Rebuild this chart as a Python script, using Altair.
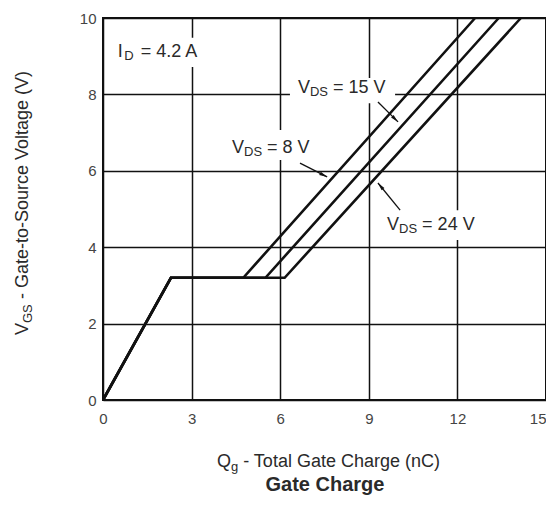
import math
import altair as alt
import pandas as pd

# ---------------- data ----------------
v_gs = [0, 3.2, 3.2, 10]
qg_8v = [0, 2.3, 4.75, 12.6]
qg_15v = [0, 2.3, 5.5, 13.4]
qg_24v = [0, 2.3, 6.15, 14.15]
series_names = ["VDS = 8 V", "VDS = 15 V", "VDS = 24 V"]

x_ticks = [0, 3, 6, 9, 12, 15]
y_ticks = [0, 2, 4, 6, 8, 10]

# annotation labels (anchor at left / middle)
label_main = ["I", "V", "V", "V"]
label_sub = ["D", "DS", "DS", "DS"]
label_rest = ["= 4.2 A", "= 15 V", "= 8 V", "= 24 V"]
label_q = [0.5, 6.6, 4.37, 9.62]
label_v = [9.11, 8.17, 6.6, 4.58]

# white label backgrounds
box_q = [0.4, 6.33, 4.13, 9.48]
box_q2 = [3.7, 9.89, 7.18, 12.7]
box_v = [8.72, 7.77, 6.28, 4.19]
box_v2 = [9.48, 8.43, 7.07, 4.97]

# arrows tail -> head
arrow_q = [9.31, 6.67, 10.06]
arrow_v = [7.80, 6.20, 4.97]
arrow_q2 = [9.99, 7.59, 9.31]
arrow_v2 = [7.28, 5.84, 5.68]

# ---------------- layout ----------------
W, H = 443, 382
FONT = "Liberation Sans"
TXT = "#2a2a2a"

rows = []
for name, qs in zip(series_names, [qg_8v, qg_15v, qg_24v]):
    for i, (q, v) in enumerate(zip(qs, v_gs)):
        rows.append({"series": name, "q": q, "v": v, "order": i})
curve_df = pd.DataFrame(rows)

box_df = pd.DataFrame({"q": box_q, "q2": box_q2, "v": box_v, "v2": box_v2})

arrow_df = pd.DataFrame({"q": arrow_q, "v": arrow_v, "q2": arrow_q2, "v2": arrow_v2})
angles = []
for a, b, c, d in zip(arrow_q, arrow_v, arrow_q2, arrow_v2):
    dxp = (c - a) * W / 15.0
    dyp = -(d - b) * H / 10.0
    angles.append(math.degrees(math.atan2(dxp, -dyp)) % 360)
arrow_df["ang"] = angles

xscale = alt.Scale(domain=[0, 15], nice=False, zero=False)
yscale = alt.Scale(domain=[0, 10], nice=False, zero=False)
xaxis = alt.Axis(values=x_ticks, title=None, grid=True, ticks=False, domain=False,
                 labelFontSize=15, labelColor="#444", labelPadding=11, labelFont=FONT,
                 labelAlign=alt.ExprRef(expr="datum.value == 15 ? 'right' : 'center'"),
                 gridColor="#111", gridWidth=1.5, gridOpacity=1)
yaxis = alt.Axis(values=y_ticks, title=None, grid=True, ticks=False, domain=False,
                 labelFontSize=15, labelColor="#444", labelPadding=7, labelFont=FONT,
                 gridColor="#111", gridWidth=1.5, gridOpacity=1)


def X(f):
    return alt.X(f, type="quantitative", scale=xscale, axis=xaxis)


def Y(f):
    return alt.Y(f, type="quantitative", scale=yscale, axis=yaxis)


lines = alt.Chart(curve_df).mark_line(color="#111", strokeWidth=2.6).encode(
    x=X("q"), y=Y("v"), detail="series:N", order="order:Q")

boxes = alt.Chart(box_df).mark_rect(color="white").encode(
    x=X("q"), x2="q2", y=Y("v"), y2="v2")

arrows = alt.Chart(arrow_df).mark_rule(color="#111", strokeWidth=1.3).encode(
    x=X("q"), x2="q2", y=Y("v"), y2="v2")

heads = alt.Chart(arrow_df).mark_point(
    shape="M0,0L0.45,2L-0.45,2Z", filled=True, color="#111", size=64, opacity=1
).encode(x=X("q2"), y=Y("v2"), angle=alt.Angle("ang:Q", scale=None))

layers = [boxes, lines, arrows, heads]


# annotation text pieces
def piece_layer(idx, texts, dx, dy, size):
    df = pd.DataFrame({"q": [label_q[i] for i in idx], "v": [label_v[i] for i in idx],
                       "t": [texts[i] for i in idx]})
    return alt.Chart(df).mark_text(align="left", baseline="middle", dx=dx, dy=dy,
                                   fontSize=size, font=FONT, color=TXT).encode(
        x=X("q"), y=Y("v"), text="t:N")


v_idx = [1, 2, 3]
i_idx = [0]
layers += [
    piece_layer(v_idx, label_main, 0, 0, 18),
    piece_layer(v_idx, label_sub, 12, 4, 13),
    piece_layer(v_idx, label_rest, 35, 0, 18),
    piece_layer(i_idx, label_main, 0, 0, 18),
    piece_layer(i_idx, label_sub, 6.5, 4, 13),
    piece_layer(i_idx, label_rest, 23, 0, 18),
]


# axis titles as text (with subscripts)
def fixed_text(t, x, y, size, angle=0, weight="normal", align="left"):
    kw = dict(align=align, baseline="alphabetic", fontSize=size, font=FONT,
              color=TXT, fontWeight=weight)
    if angle:
        kw["angle"] = angle
    return alt.Chart(pd.DataFrame({"t": [t]})).mark_text(**kw).encode(
        x=alt.value(x), y=alt.value(y), text="t:N")


layers += [
    fixed_text("Q", 114, 449, 18),
    fixed_text("g", 128, 453, 13),
    fixed_text("- Total Gate Charge (nC)", 140.2, 449, 18),
    fixed_text("Gate Charge", 222, 473, 20, weight="bold", align="center"),
    fixed_text("V", -75, 317, 18, angle=270),
    fixed_text("GS", -71, 305, 13, angle=270),
    fixed_text("- Gate-to-Source Voltage (V)", -75, 281, 18, angle=270),
]

chart = alt.layer(*layers).properties(
    width=W, height=H,
    padding={"left": 95, "top": 10, "right": 0, "bottom": 97},
    autosize=alt.AutoSizeParams(type="none"),
).configure_view(stroke="#111", strokeWidth=2)

chart.save("out.html", embed_options={"renderer": "svg", "actions": False})
